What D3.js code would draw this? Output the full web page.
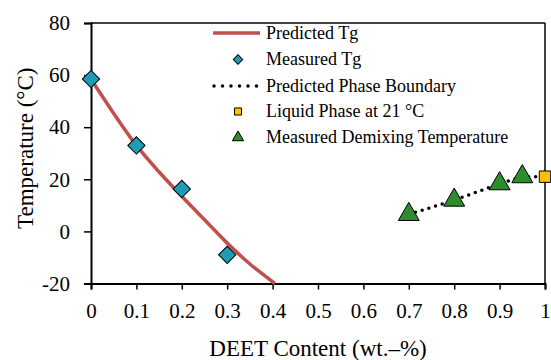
<!DOCTYPE html>
<meta charset="utf-8">
<script src="https://d3js.org/d3.v7.min.js"></script>
<style>
  body { margin: 0; background: #fff; }
  svg, svg text { font-family: 'Liberation Serif', 'Times New Roman', Times, serif; }
</style>
<svg id="chart" width="551" height="360"></svg>
<script>

// Predicted Tg curve
var predX = [0, 0.05, 0.1, 0.15, 0.2, 0.25, 0.3, 0.35, 0.405];
var predY = [58.5, 45.3, 33, 22.8, 13.5, 4.5, -4.5, -12.5, -20];

// Measured Tg
var tgX = [0, 0.1, 0.2, 0.3];
var tgY = [58.5, 33, 16.3, -9];

// Measured demixing temperature
var demixX = [0.7, 0.8, 0.9, 0.95];
var demixY = [6.5, 12, 18.3, 21];

// Liquid phase at 21 °C
var liquidX = [1];
var liquidY = [21];

// Predicted phase boundary (dotted)
var boundX = [0.7, 0.8, 0.9, 0.95, 1];
var boundY = [6.5, 12, 18.3, 21, 21];

var xTicks = [0, 0.1, 0.2, 0.3, 0.4, 0.5, 0.6, 0.7, 0.8, 0.9, 1];
var yTicks = [-20, 0, 20, 40, 60, 80];

var legendLabels = ["Predicted Tg", "Measured Tg", "Predicted Phase Boundary", "Liquid Phase at 21 \u00B0C", "Measured Demixing Temperature"];

var svg = d3.select("#chart"),
    margin = {top: 23, right: 6, bottom: 76.5, left: 91},
    width = +svg.attr("width") - margin.left - margin.right,
    height = +svg.attr("height") - margin.top - margin.bottom;

var serif = "'Liberation Serif', 'Times New Roman', Times, serif";

var g = svg.append("g").attr("transform", "translate(" + margin.left + "," + margin.top + ")");

var x = d3.scaleLinear().domain([0, 1]).range([0, width]);
var y = d3.scaleLinear().domain([-20, 80]).range([height, 0]);

var red = "#C0504D", teal = "#1F9BB4", green = "#2E8B2E", gold = "#FFC000";

// frame (top and right)
g.append("line").attr("x1", 0).attr("x2", width).attr("y1", 0).attr("y2", 0)
  .attr("stroke", "#000").attr("stroke-width", 1.5);
g.append("line").attr("x1", width).attr("x2", width).attr("y1", 0).attr("y2", height)
  .attr("stroke", "#000").attr("stroke-width", 1.5);

// axes
var xAxis = g.append("g")
  .attr("transform", "translate(0," + height + ")")
  .call(d3.axisBottom(x).tickValues(xTicks).tickFormat(function(d){ return String(d) }).tickSizeOuter(0).tickSize(6).tickPadding(14));
var yAxis = g.append("g")
  .call(d3.axisLeft(y).tickValues(yTicks).tickFormat(function(d){ return String(d) }).tickSizeOuter(0).tickSize(7).tickPadding(14));

[xAxis, yAxis].forEach(function(a){
  a.attr("font-family", serif).attr("font-size", 21);
  a.select(".domain").attr("stroke-width", 2);
  a.selectAll(".tick line").attr("stroke-width", 1.5);
  a.selectAll(".tick text").attr("fill", "#000");
});

// axis titles
svg.append("text")
  .attr("x", margin.left + width / 2).attr("y", 356)
  .attr("text-anchor", "middle").attr("font-family", serif).attr("font-size", 23)
  .text("DEET Content (wt.\u2013%)");
svg.append("text")
  .attr("transform", "translate(33," + (margin.top + height / 2 - 5) + ") rotate(-90)")
  .attr("text-anchor", "middle").attr("font-family", serif).attr("font-size", 23)
  .text("Temperature (\u00B0C)");

// predicted Tg curve
var line = d3.line().curve(d3.curveCatmullRom)
  .x(function(d){ return x(d[0]) }).y(function(d){ return y(d[1]) });
g.append("path")
  .datum(d3.zip(predX, predY))
  .attr("d", line)
  .attr("fill", "none").attr("stroke", red).attr("stroke-width", 3.5);

// predicted phase boundary
var line2 = d3.line().x(function(d){ return x(d[0]) }).y(function(d){ return y(d[1]) });
g.append("path")
  .datum(d3.zip(boundX, boundY))
  .attr("d", line2)
  .attr("fill", "none").attr("stroke", "#000").attr("stroke-width", 3.5)
  .attr("stroke-dasharray", "0,7").attr("stroke-linecap", "round");

// measured Tg diamonds
var diamond = d3.symbol().type(d3.symbolSquare).size(150);
g.selectAll(".tg").data(d3.zip(tgX, tgY)).enter().append("path")
  .attr("d", diamond)
  .attr("transform", function(d){ return "translate(" + x(d[0]) + "," + y(d[1]) + ") rotate(45)" })
  .attr("fill", teal).attr("stroke", "#000").attr("stroke-width", 1);

// demixing triangles
var tri = d3.symbol().type(d3.symbolTriangle).size(190);
g.selectAll(".dm").data(d3.zip(demixX, demixY)).enter().append("path")
  .attr("d", tri)
  .attr("transform", function(d){ return "translate(" + x(d[0]) + "," + y(d[1]) + ")" })
  .attr("fill", green).attr("stroke", "#000").attr("stroke-width", 1);

// liquid phase square
var sq = d3.symbol().type(d3.symbolSquare).size(130);
g.selectAll(".lq").data(d3.zip(liquidX, liquidY)).enter().append("path")
  .attr("d", sq)
  .attr("transform", function(d){ return "translate(" + x(d[0]) + "," + y(d[1]) + ")" })
  .attr("fill", gold).attr("stroke", "#000").attr("stroke-width", 1);

// legend
var lg = svg.append("g");
var rowY = [33, 59.5, 86, 111.5, 137.5];
var symX = 238;
lg.append("line").attr("x1", 213).attr("x2", 260).attr("y1", rowY[0]).attr("y2", rowY[0])
  .attr("stroke", red).attr("stroke-width", 3.5);
lg.append("path").attr("d", d3.symbol().type(d3.symbolSquare).size(45))
  .attr("transform", "translate(" + symX + "," + rowY[1] + ") rotate(45)")
  .attr("fill", teal).attr("stroke", "#000").attr("stroke-width", 1);
lg.append("line").attr("x1", 214).attr("x2", 258).attr("y1", rowY[2]).attr("y2", rowY[2])
  .attr("stroke", "#000").attr("stroke-width", 3.5)
  .attr("stroke-dasharray", "0,8.5").attr("stroke-linecap", "round");
lg.append("path").attr("d", d3.symbol().type(d3.symbolSquare).size(50))
  .attr("transform", "translate(" + symX + "," + rowY[3] + ")")
  .attr("fill", gold).attr("stroke", "#000").attr("stroke-width", 1);
lg.append("path").attr("d", d3.symbol().type(d3.symbolTriangle).size(55))
  .attr("transform", "translate(" + symX + "," + rowY[4] + ")")
  .attr("fill", green).attr("stroke", "#000").attr("stroke-width", 1);

lg.selectAll(".lt").data(legendLabels).enter().append("text")
  .attr("x", 266).attr("y", function(d, i){ return rowY[i] })
  .attr("dy", "0.33em").attr("font-family", serif).attr("font-size", 18)
  .text(function(d){ return d });

</script>
